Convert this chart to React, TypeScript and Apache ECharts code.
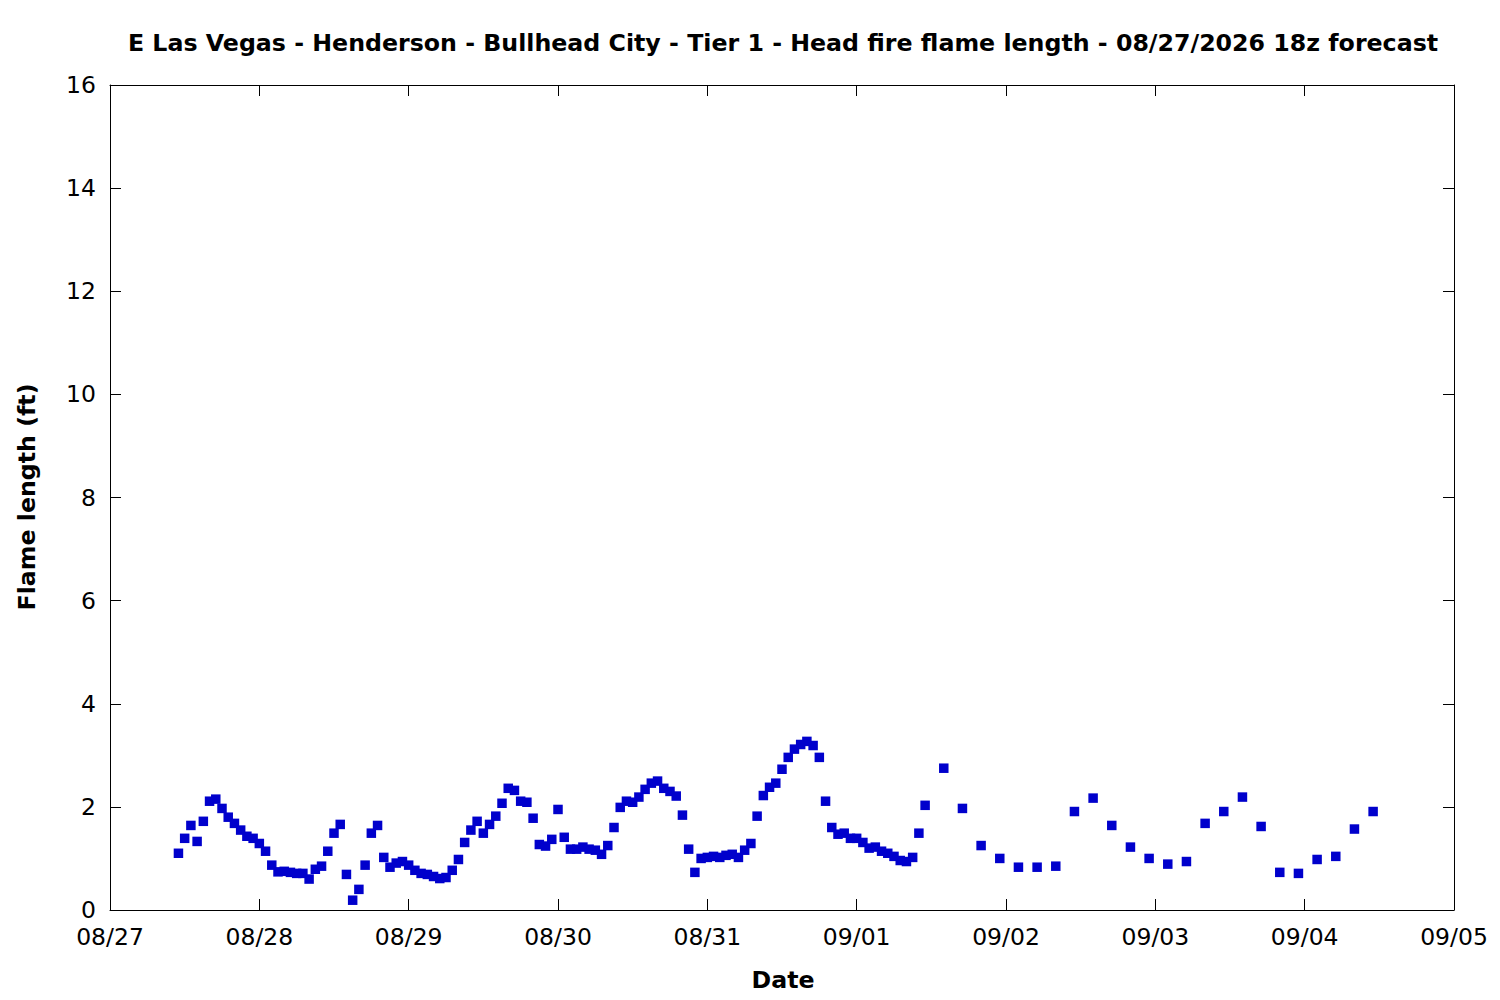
import React, { useEffect, useRef } from "react";
import * as echarts from "echarts";

// Hourly forecast values starting 08/27 11:00 (hour 11 of the plotted range)
const hourlyStartHour = 11;
const hourlyValues = [
  1.10, 1.39, 1.64, 1.33, 1.72, 2.11, 2.15, 1.97, 1.80, 1.68,
  1.55, 1.43, 1.39, 1.29, 1.14, 0.87, 0.74, 0.75, 0.73, 0.71,
  0.71, 0.60, 0.79, 0.85, 1.14, 1.49, 1.66, 0.69, 0.19, 0.40,
  0.87, 1.49, 1.64, 1.02, 0.83, 0.91, 0.94, 0.87, 0.77, 0.71,
  0.69, 0.65, 0.61, 0.63, 0.77, 0.98, 1.31, 1.55, 1.72, 1.49,
  1.66, 1.82, 2.07, 2.36, 2.32, 2.11, 2.09, 1.78, 1.27, 1.24,
  1.37, 1.95, 1.41, 1.18, 1.18, 1.22, 1.18, 1.16, 1.08, 1.25,
  1.60, 1.99, 2.11, 2.09, 2.19, 2.34, 2.46, 2.50, 2.36, 2.30,
  2.21, 1.84, 1.18, 0.73, 1.00, 1.02, 1.04, 1.02, 1.06, 1.08,
  1.02, 1.16, 1.29, 1.82, 2.22, 2.38, 2.46, 2.73, 2.96, 3.12,
  3.21, 3.27, 3.19, 2.96, 2.11, 1.60, 1.47, 1.49, 1.39, 1.39,
  1.31, 1.20, 1.22, 1.14, 1.10, 1.04, 0.96, 0.94, 1.02, 1.49,
  2.03,
];

// 3-hourly forecast values starting 09/01 14:00 (hour 134)
const threeHourlyStartHour = 134;
const threeHourlyValues = [
  2.75, 1.97, 1.25, 1.00, 0.83, 0.83, 0.85, 1.91, 2.17, 1.64,
  1.22, 1.00, 0.89, 0.94, 1.68, 1.91, 2.19, 1.62, 0.73, 0.71,
  0.98, 1.04, 1.57, 1.91,
];

const dateTickLabels = [
  "08/27", "08/28", "08/29", "08/30", "08/31",
  "09/01", "09/02", "09/03", "09/04", "09/05",
];

const titleText =
  "E Las Vegas - Henderson - Bullhead City - Tier 1 - Head fire flame length - 08/27/2026 18z forecast";
const xAxisTitle = "Date";
const yAxisTitle = "Flame length (ft)";

const FONT = "'DejaVu Sans', sans-serif";

export default function App() {
  const ref = useRef<HTMLDivElement>(null);

  useEffect(() => {
    if (!ref.current) return;
    const chart = echarts.init(ref.current, undefined, { renderer: "svg" });

    const points: [number, number][] = [];
    hourlyValues.forEach((v, i) => points.push([hourlyStartHour + i, v]));
    threeHourlyValues.forEach((v, i) =>
      points.push([threeHourlyStartHour + i * 3, v])
    );

    const xMax = (dateTickLabels.length - 1) * 24;
    const axisLine = { show: true, onZero: false, lineStyle: { color: "#000", width: 1 } };
    const tick = { show: true, inside: true, length: 11, lineStyle: { color: "#000", width: 1 } };

    chart.setOption({
      animation: false,
      backgroundColor: "#fff",
      grid: { left: 110, right: 46, top: 85, bottom: 90, containLabel: false },
      xAxis: [
        {
          type: "value",
          position: "bottom",
          min: 0,
          max: xMax,
          interval: 24,
          axisLine,
          axisTick: tick,
          splitLine: { show: false },
          axisLabel: {
            show: true,
            margin: 15,
            fontSize: 23.5,
            fontFamily: FONT,
            color: "#000",
            formatter: (v: number) => dateTickLabels[Math.round(v / 24)] ?? "",
          },
        },
        {
          type: "value",
          position: "top",
          min: 0,
          max: xMax,
          interval: 24,
          axisLine,
          axisTick: tick,
          splitLine: { show: false },
          axisLabel: { show: false },
        },
      ],
      yAxis: [
        {
          type: "value",
          position: "left",
          min: 0,
          max: 16,
          interval: 2,
          axisLine,
          axisTick: tick,
          splitLine: { show: false },
          axisLabel: {
            margin: 14,
            fontSize: 23.5,
            fontFamily: FONT,
            color: "#000",
          },
        },
        {
          type: "value",
          position: "right",
          min: 0,
          max: 16,
          interval: 2,
          axisLine,
          axisTick: tick,
          splitLine: { show: false },
          axisLabel: { show: false },
        },
      ],
      graphic: [
        {
          type: "text",
          x: 783,
          y: 43,
          style: {
            text: titleText,
            fontSize: 23.7,
            fontWeight: "bold",
            fontFamily: FONT,
            fill: "#000",
            textAlign: "center",
            textVerticalAlign: "middle",
          },
        },
        {
          type: "text",
          x: 783,
          y: 980,
          style: {
            text: xAxisTitle,
            fontSize: 23.7,
            fontWeight: "bold",
            fontFamily: FONT,
            fill: "#000",
            textAlign: "center",
            textVerticalAlign: "middle",
          },
        },
        {
          type: "text",
          x: 27,
          y: 497,
          rotation: Math.PI / 2,
          style: {
            text: yAxisTitle,
            fontSize: 23.7,
            fontWeight: "bold",
            fontFamily: FONT,
            fill: "#000",
            textAlign: "center",
            textVerticalAlign: "middle",
          },
        },
      ],
      series: [
        {
          type: "scatter",
          xAxisIndex: 0,
          yAxisIndex: 0,
          symbol: "rect",
          symbolSize: 9.5,
          itemStyle: { color: "#0000cc", opacity: 1 },
          data: points,
        },
        {
          type: "scatter",
          xAxisIndex: 1,
          yAxisIndex: 1,
          data: [],
        },
      ],
    });

    return () => chart.dispose();
  }, []);

  return (
    <div
      ref={ref}
      style={{ position: "fixed", left: 0, top: 0, width: 1500, height: 1000, background: "#fff" }}
    />
  );
}
